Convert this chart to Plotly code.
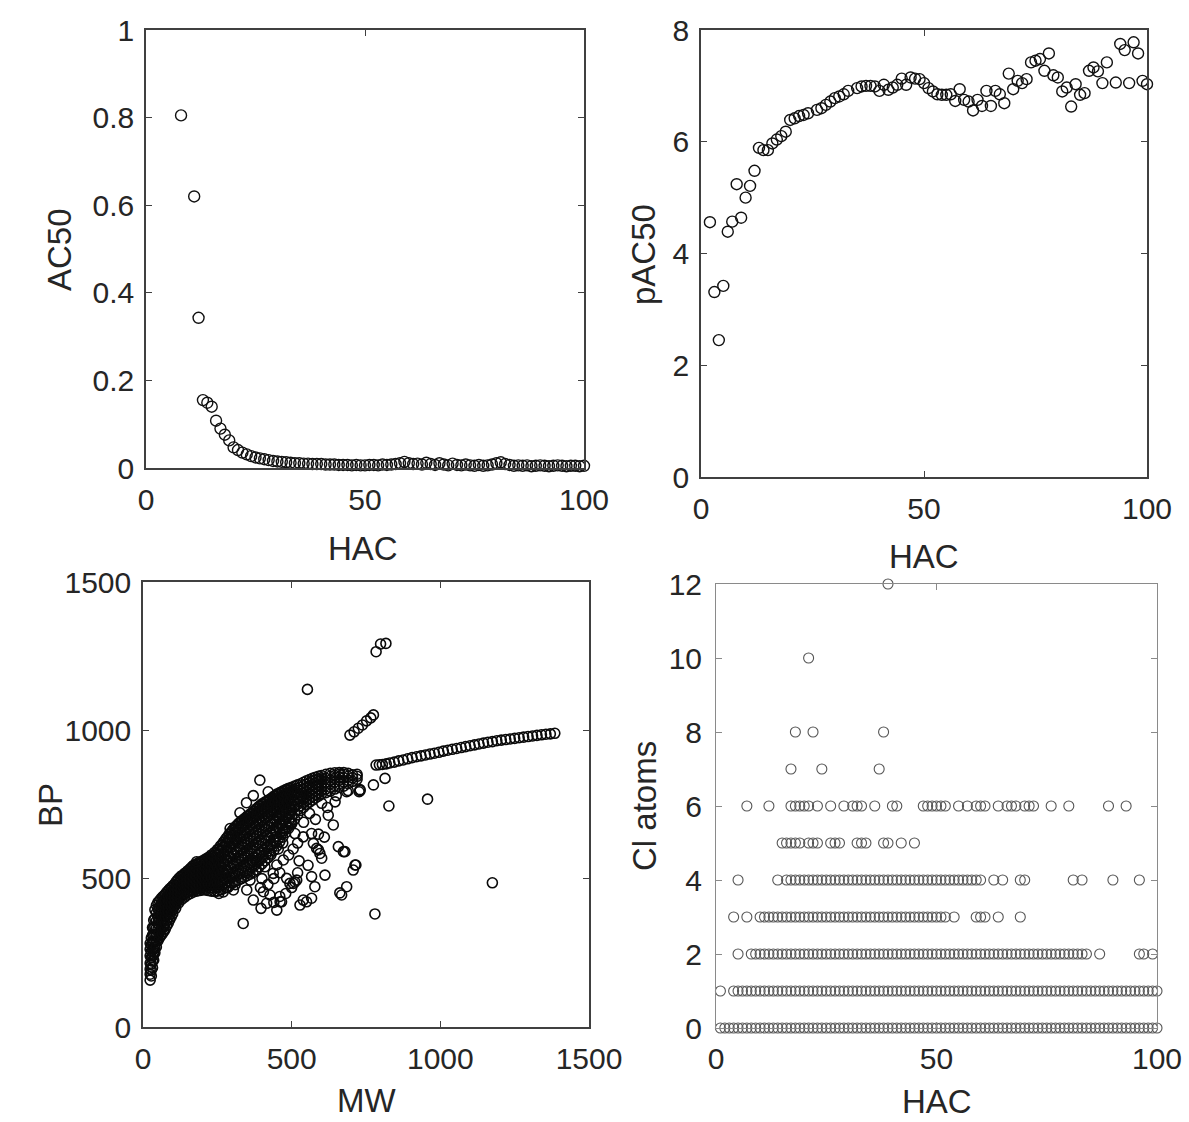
import plotly.graph_objects as go

W, H = 1189, 1122

# ---------------- AC50 against heavy atom count ----------------
ac50_hac = [8, 11, 12] + list(range(13, 101))
ac50_val = [0.805, 0.620, 0.343,
            0.155, 0.149, 0.140, 0.108, 0.090, 0.076, 0.063, 0.047, 0.041, 0.035,
            0.031, 0.027, 0.024, 0.022, 0.020, 0.018, 0.016, 0.015, 0.014, 0.013,
            0.012, 0.011, 0.011, 0.010, 0.010, 0.009, 0.009, 0.009, 0.008, 0.008,
            0.008, 0.007, 0.007, 0.007, 0.006, 0.007, 0.006, 0.006, 0.007, 0.007,
            0.006, 0.008, 0.007, 0.008, 0.009, 0.011, 0.014, 0.011, 0.009, 0.010,
            0.008, 0.012, 0.009, 0.007, 0.011, 0.008, 0.006, 0.010, 0.007, 0.006,
            0.008, 0.006, 0.005, 0.007, 0.005, 0.006, 0.008, 0.011, 0.013, 0.009,
            0.007, 0.005, 0.006, 0.005, 0.006, 0.004, 0.005, 0.006, 0.005, 0.004,
            0.005, 0.006, 0.005, 0.004, 0.005, 0.005, 0.004, 0.005]

# ---------------- pAC50 against heavy atom count ----------------
pac50_hac = [2, 3, 4, 5, 6, 7, 8, 9, 10, 11, 12, 13, 14, 15, 16, 17, 18, 19,
             20, 21, 22, 23, 24, 26, 27, 28, 29, 30, 31, 32, 33, 35, 36, 37, 38,
             39, 40, 41, 42, 43, 44, 45, 46, 47, 48, 49, 50, 51, 52, 53, 54, 55,
             56, 57, 58, 59, 60, 61, 62, 63, 64, 65, 66, 67, 68, 69, 70, 71, 72,
             73, 74, 75, 76, 77, 78, 79, 80, 81, 82, 83, 84, 85, 86, 87, 88, 89,
             90, 91, 93, 94, 95, 96, 97, 98, 99, 100]
pac50_val = [4.56, 3.31, 2.45, 3.42, 4.39, 4.57, 5.24, 4.64, 5.00, 5.21, 5.48,
             5.89, 5.85, 5.85, 5.97, 6.04, 6.10, 6.18,
             6.39, 6.42, 6.46, 6.48, 6.51, 6.57, 6.60, 6.66, 6.72, 6.78, 6.81,
             6.85, 6.91, 6.96, 6.99, 7.00, 7.00, 6.99, 6.91, 7.02, 6.93, 6.97,
             7.02, 7.13, 7.02, 7.15, 7.13, 7.12, 7.05, 6.96, 6.90, 6.85, 6.84,
             6.84, 6.85, 6.73, 6.94, 6.75, 6.72, 6.56, 6.75, 6.64, 6.91, 6.64,
             6.91, 6.85, 6.69, 7.22, 6.94, 7.09, 7.05, 7.12, 7.42, 7.45, 7.48,
             7.27, 7.58, 7.19, 7.15, 6.90, 6.97, 6.63, 7.03, 6.84, 6.87, 7.27,
             7.33, 7.26, 7.05, 7.42, 7.06, 7.75, 7.64, 7.05, 7.78, 7.58, 7.09,
             7.03]

# ---------------- boiling point against molecular weight ----------------
# main band, read column by column: MW and the BP readings in that column
band_mw = [24, 28, 32, 36, 40, 45, 50, 55, 60, 65, 70, 75, 80, 85, 90, 95,
           100, 105, 110, 115, 120, 125, 130, 135, 140, 145, 150, 155, 160, 165,
           170, 175, 180, 185, 190, 195, 200, 205, 210, 215, 220, 225, 230, 235,
           240, 245, 250, 255, 260, 265, 270, 275, 280, 285, 290, 295, 300, 305,
           310, 315, 320, 325, 330, 335, 340, 345, 350, 355, 360, 365, 370, 375,
           380, 385, 390, 395, 400, 405, 410, 415, 420, 425, 430, 435, 440, 445,
           450, 455, 460, 465, 470, 475, 480, 485, 490, 495, 500, 510, 520, 530,
           540, 550, 560, 570, 580, 590, 600, 615, 630, 645, 660, 675, 690, 705,
           720]
band_bp = [
    [158, 178, 195, 215, 240, 262, 282], [172, 192, 212, 235, 255, 278, 300],
    [200, 222, 240, 262, 285, 310, 335], [225, 245, 262, 285, 310, 335, 360],
    [250, 268, 290, 312, 338, 365, 395], [270, 290, 310, 333, 358, 385, 410],
    [290, 308, 328, 350, 372, 398, 420], [300, 318, 340, 362, 385, 405, 425],
    [308, 328, 350, 370, 392, 412, 432], [315, 335, 358, 378, 398, 420, 438],
    [322, 342, 365, 386, 405, 425, 442], [330, 350, 372, 392, 412, 430, 448],
    [342, 360, 380, 400, 418, 438, 455], [350, 368, 388, 406, 424, 442, 460],
    [362, 380, 398, 414, 430, 448, 466], [372, 388, 405, 420, 437, 454, 470],
    [382, 396, 412, 428, 443, 460, 476], [405, 420, 435, 450, 466, 480],
    [400, 414, 428, 442, 457, 472, 488], [422, 436, 450, 463, 478, 494],
    [418, 430, 444, 457, 470, 486, 500], [436, 449, 462, 475, 490, 505],
    [430, 442, 455, 468, 482, 496, 510], [444, 456, 470, 484, 497, 511],
    [438, 450, 463, 477, 490, 504, 518], [451, 464, 478, 492, 506, 520],
    [445, 457, 471, 485, 499, 513, 526], [457, 470, 485, 500, 514, 530],
    [450, 463, 478, 492, 507, 521, 535], [461, 476, 491, 507, 522, 540],
    [455, 468, 484, 499, 515, 530, 545], [465, 480, 496, 512, 528, 543],
    [458, 472, 488, 505, 520, 536, 550], [467, 484, 500, 517, 533, 549],
    [460, 476, 492, 509, 526, 542, 556], [469, 486, 502, 520, 537, 553],
    [462, 478, 496, 513, 530, 547, 560], [471, 489, 506, 525, 542, 558],
    [462, 480, 499, 517, 536, 552, 566], [471, 490, 510, 529, 547, 562],
    [460, 480, 501, 522, 542, 558, 572], [469, 491, 513, 535, 552, 569],
    [458, 480, 503, 526, 548, 565, 580], [469, 492, 516, 540, 560, 576],
    [457, 481, 506, 530, 554, 572, 588], [470, 496, 521, 546, 568, 585],
    [458, 484, 510, 536, 562, 582, 598], [473, 501, 528, 556, 580, 598],
    [462, 488, 516, 544, 572, 594, 610], [478, 509, 539, 569, 595, 614],
    [466, 494, 524, 554, 584, 606, 622], [485, 516, 548, 580, 608, 628],
    [470, 500, 532, 564, 596, 620, 636], [492, 525, 559, 592, 621, 642],
    [476, 508, 542, 576, 608, 634, 650], [502, 536, 571, 605, 634, 655],
    [485, 518, 554, 588, 622, 646, 662], [505, 543, 581, 617, 646, 668],
    [490, 524, 562, 600, 634, 658, 675], [510, 550, 590, 628, 658, 678],
    [495, 530, 570, 610, 645, 670, 685], [515, 557, 598, 638, 668, 688],
    [500, 536, 578, 618, 655, 678, 694], [520, 564, 606, 645, 676, 696],
    [505, 542, 586, 626, 664, 687, 702], [525, 571, 614, 653, 684, 704],
    [510, 548, 594, 634, 672, 695, 710], [531, 577, 620, 660, 692, 712],
    [515, 554, 600, 642, 680, 703, 718], [537, 583, 627, 668, 700, 720],
    [520, 560, 606, 648, 688, 711, 726], [545, 592, 635, 676, 708, 728],
    [530, 570, 614, 656, 696, 720, 735], [555, 601, 643, 684, 716, 738],
    [540, 580, 622, 664, 704, 728, 744], [565, 610, 651, 692, 724, 746],
    [550, 590, 630, 672, 712, 735, 752], [575, 618, 658, 698, 730, 752],
    [560, 598, 638, 678, 718, 741, 758], [584, 627, 666, 705, 736, 758],
    [570, 608, 646, 686, 724, 747, 764], [594, 636, 675, 712, 742, 764],
    [580, 617, 654, 694, 730, 753, 770], [606, 648, 684, 720, 750, 772],
    [595, 630, 664, 702, 738, 761, 778], [620, 660, 694, 728, 757, 778],
    [610, 643, 676, 711, 746, 769, 785], [634, 672, 704, 737, 764, 784],
    [625, 656, 687, 720, 754, 775, 790], [648, 684, 714, 745, 770, 790],
    [640, 669, 698, 729, 760, 781, 795], [662, 696, 724, 752, 776, 795],
    [655, 682, 709, 738, 766, 787, 800], [676, 708, 733, 760, 782, 800],
    [670, 695, 720, 746, 772, 791, 805], [690, 719, 742, 766, 787, 804],
    [685, 708, 730, 754, 778, 796, 808], [700, 720, 741, 762, 783, 800, 812],
    [715, 733, 751, 770, 789, 804, 816], [730, 746, 762, 778, 794, 808, 820],
    [740, 755, 770, 786, 800, 813, 825], [750, 764, 778, 793, 806, 818, 830],
    [758, 771, 785, 799, 812, 823, 834], [765, 778, 791, 804, 817, 828, 838],
    [772, 784, 797, 810, 822, 832, 842], [778, 790, 802, 815, 827, 836, 845],
    [785, 796, 808, 820, 832, 840, 848], [790, 802, 814, 826, 838, 852],
    [795, 808, 820, 832, 845, 855], [802, 814, 826, 838, 848, 857],
    [808, 820, 832, 843, 852, 858], [812, 826, 840, 852, 858],
    [820, 832, 845, 855], [828, 840, 850], [835, 845, 852]]

# scattered compounds below and around the main band
spread_mw = [337, 397, 416, 450, 466, 371, 349, 405, 427, 483, 494, 511, 528, 539,
             567, 567, 578, 612, 662, 685, 707, 716, 674, 657, 595, 601, 584, 567,
             539, 511, 640, 623, 601, 646, 685, 727, 775, 814, 827, 957, 1175, 780,
             450, 427, 472, 438, 382, 360, 304, 393, 421, 371, 348, 326, 293, 180,
             395, 420, 440, 460, 400, 380, 410, 455, 470, 490, 505, 520, 430, 445,
             500, 470, 540, 560, 580, 620, 650, 690, 730, 525, 480, 500, 350, 365,
             330, 310, 285, 270, 255, 440, 460, 520, 555, 590, 610, 573, 550, 590,
             506, 517, 461, 668, 713, 679, 730]
spread_bp = [349, 400, 417, 394, 422, 428, 462, 456, 445, 501, 484, 489, 411, 428,
             434, 507, 473, 512, 452, 473, 529, 546, 591, 608, 585, 569, 602, 652,
             641, 652, 681, 714, 754, 759, 793, 793, 816, 838, 745, 768, 486, 381,
             546, 585, 563, 518, 529, 495, 462, 832, 793, 780, 756, 722, 669, 557,
             470, 480, 500, 520, 500, 560, 540, 600, 620, 580, 600, 620, 610, 640,
             690, 660, 690, 720, 700, 740, 780, 797, 800, 560, 450, 470, 520, 560,
             500, 480, 470, 455, 450, 420, 440, 520, 545, 650, 640, 619, 422, 597,
             484, 495, 422, 445, 546, 591, 797]

# higher boiling series (upper right arm)
arm_mw = [784, 795, 805, 818, 830, 845, 860, 875, 890, 905, 920, 935, 950, 965,
          980, 995, 1010, 1025, 1040, 1055, 1070, 1085, 1100, 1115, 1130, 1145,
          1160, 1175, 1190, 1205, 1220, 1235, 1250, 1265, 1280, 1295, 1310, 1325,
          1340, 1355, 1370, 1385]
arm_bp = [883, 884, 885, 887, 890, 893, 897, 900, 904, 908, 911, 914, 917, 920,
          923, 926, 930, 933, 936, 939, 942, 945, 948, 951, 954, 957, 960, 962,
          965, 967, 969, 971, 973, 975, 977, 979, 981, 983, 985, 987, 988, 990]

# isolated high values
high_mw = [553, 784, 799, 817, 696, 710, 724, 738, 752, 766, 775]
high_bp = [1138, 1265, 1291, 1293, 984, 995, 1007, 1018, 1032, 1042, 1052]

# ---------------- chlorine atoms against heavy atom count ----------------
cl_rows = {
    0: list(range(1, 101)),
    1: [1, 4, 5] + list(range(6, 101)),
    2: [5] + list(range(8, 85)) + [87, 96, 97, 99],
    3: [4, 7] + list(range(10, 53)) + [54, 59, 60, 61, 64, 69],
    4: [5, 14] + list(range(16, 61)) + [63, 65, 69, 70, 81, 83, 90, 96],
    5: [15, 16, 17, 18, 19, 21, 22, 23, 26, 27, 28, 32, 33, 34, 38, 39, 42, 45],
    6: [7, 12, 17, 18, 19, 20, 21, 23, 26, 29, 31, 32, 33, 36, 40, 41, 47, 48,
        49, 50, 51, 52, 55, 57, 59, 60, 61, 64, 66, 67, 68, 70, 71, 72, 76, 80,
        89, 93],
    7: [17, 24, 37],
    8: [18, 22, 38],
    10: [21],
    12: [39],
}

band_x = [m for m, col in zip(band_mw, band_bp) for _ in col]
band_y = [b for col in band_bp for b in col]
bp_x = band_x + spread_mw + arm_mw + high_mw
bp_y = band_y + spread_bp + arm_bp + high_bp

cl_x = [h for k in cl_rows for h in cl_rows[k]]
cl_y = [k for k in cl_rows for _ in cl_rows[k]]


# ---------------- layout helpers (pixel boxes of the four panels) ----------------
def dom_x(left, right):
    return [left / W, right / W]


def dom_y(top, bottom):
    return [1 - bottom / H, 1 - top / H]


FONT = "Liberation Sans, Arial, sans-serif"
TICK_FONT = dict(family=FONT, size=30, color="#262626")
TITLE_FONT = dict(family=FONT, size=33, color="#262626")


def axis(domain, rng, dtick, anchor, frame="#404040", lw=1.5, label_gap=4):
    return dict(domain=domain, range=rng, dtick=dtick, tick0=0,
                showline=True, linecolor=frame, linewidth=lw, mirror="ticks",
                ticks="inside", ticklen=6, tickwidth=1, tickcolor=frame,
                showgrid=False, zeroline=False, anchor=anchor, automargin=False,
                tickfont=TICK_FONT, ticklabelstandoff=label_gap)


def marker(size, color, width):
    return dict(symbol="circle-open", size=size, color=color,
                line=dict(width=width, color=color))


def label(text, px, py, vertical=False):
    return dict(text=text, x=px / W, y=1 - py / H, xref="paper", yref="paper",
                xanchor="center", yanchor="middle", showarrow=False,
                textangle=-90 if vertical else 0, font=TITLE_FONT)


fig = go.Figure()
fig.add_trace(go.Scatter(x=ac50_hac, y=ac50_val, mode="markers", xaxis="x", yaxis="y",
                         marker=marker(11, "#111111", 1.4), cliponaxis=False,
                         showlegend=False))
fig.add_trace(go.Scatter(x=pac50_hac, y=pac50_val, mode="markers", xaxis="x2", yaxis="y2",
                         marker=marker(11, "#111111", 1.4), cliponaxis=False,
                         showlegend=False))
fig.add_trace(go.Scatter(x=bp_x, y=bp_y, mode="markers", xaxis="x3", yaxis="y3",
                         marker=marker(10, "#0a0a0a", 1.6), cliponaxis=False,
                         showlegend=False))
fig.add_trace(go.Scatter(x=cl_x, y=cl_y, mode="markers", xaxis="x4", yaxis="y4",
                         marker=marker(10, "#555555", 1.1), cliponaxis=False,
                         showlegend=False))

fig.update_layout(
    width=W, height=H, margin=dict(l=0, r=0, t=0, b=0, autoexpand=False),
    paper_bgcolor="white", plot_bgcolor="white",
    xaxis=axis(dom_x(146, 584), [0, 100], 50, "y"),
    yaxis=axis(dom_y(30, 468), [0, 1], 0.2, "x"),
    xaxis2=axis(dom_x(701, 1147), [0, 100], 50, "y2"),
    yaxis2=axis(dom_y(30, 477), [0, 8], 2, "x2"),
    xaxis3=axis(dom_x(143, 589), [0, 1500], 500, "y3"),
    yaxis3=axis(dom_y(582, 1027), [0, 1500], 500, "x3"),
    xaxis4=axis(dom_x(716, 1157), [0, 100], 50, "y4", frame="#8a8a8a", lw=1),
    yaxis4=axis(dom_y(584, 1028), [0, 12], 2, "x4", frame="#8a8a8a", lw=1,
                label_gap=7),
    annotations=[
        label("HAC", 363, 548), label("AC50", 60, 250, vertical=True),
        label("HAC", 924, 556), label("pAC50", 644, 254, vertical=True),
        label("MW", 366, 1100), label("BP", 50, 805, vertical=True),
        label("HAC", 937, 1101), label("Cl atoms", 644, 806, vertical=True),
    ],
)

fig.write_html("out.html")
